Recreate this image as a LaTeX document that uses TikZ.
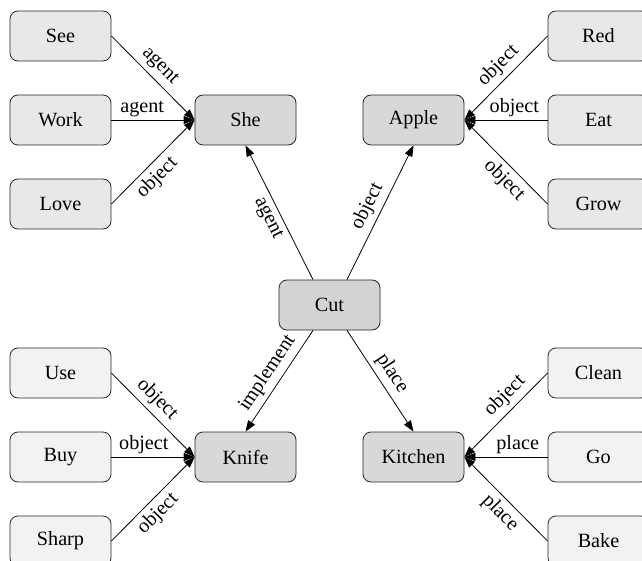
\documentclass[tikz,border=0pt]{standalone}
\usepackage{fontspec}
\setmainfont{Liberation Serif}
\usetikzlibrary{arrows.meta}
\definecolor{outerA}{HTML}{E8E8E8}
\definecolor{outerB}{HTML}{F2F2F2}
\definecolor{hubfill}{HTML}{D8D8D8}
\definecolor{cutfill}{HTML}{D3D3D3}
\begin{document}
\begin{tikzpicture}[
  x=1pt, y=1pt,
  box/.style={draw=black!85, line width=0.8pt, rounded corners=8pt,
    minimum width=101pt, minimum height=50pt, inner sep=0pt,
    font=\fontsize{20.2}{24}\selectfont},
  leafA/.style={box, fill=outerA},
  leafB/.style={box, fill=outerB},
  hub/.style={box, fill=hubfill},
  root/.style={box, fill=cutfill},
  rel/.style={draw=black, line width=0.8pt, -{Triangle[length=11pt,width=8pt]}},
  lbl/.style={font=\fontsize{20.2}{24}\selectfont, inner sep=2pt, outer sep=3pt, sloped}
]
\useasboundingbox (0,0) rectangle (642,-561);

% central concept
\node[root] (cut) at (329.5,-305) {Cut};

% second-level concepts
\node[hub] (she)     at (245.5,-120) {She};
\node[hub] (apple)   at (413.5,-120) {Apple};
\node[hub] (knife)   at (245.5,-457) {Knife};
\node[hub] (kitchen) at (413.5,-457) {Kitchen};

% leaves around She
\node[leafA] (see)  at (60.5,-36)  {See};
\node[leafA] (work) at (60.5,-120) {Work};
\node[leafA] (love) at (60.5,-204) {Love};

% leaves around Apple
\node[leafA] (red)  at (598.5,-36)  {Red};
\node[leafA] (eat)  at (598.5,-120) {Eat};
\node[leafA] (grow) at (598.5,-204) {Grow};

% leaves around Knife
\node[leafB] (use)   at (60.5,-373) {Use};
\node[leafB] (buy)   at (60.5,-457) {Buy};
\node[leafB] (sharp) at (60.5,-541) {Sharp};

% leaves around Kitchen
\node[leafB] (clean) at (598.5,-373) {Clean};
\node[leafB] (go)    at (598.5,-457) {Go};
\node[leafB] (bake)  at (598.5,-541) {Bake};

% relations from the central concept
\draw[rel] ([xshift=-16.5pt]cut.north) -- node[lbl, below, pos=0.5] {agent} (she.south);
\draw[rel] ([xshift=17.5pt]cut.north) -- node[lbl, above, pos=0.5] {object} (apple.south);
\draw[rel] ([xshift=-16.5pt]cut.south) -- node[lbl, above, pos=0.5] {implement} (knife.north);
\draw[rel] ([xshift=17.5pt]cut.south) -- node[lbl, above, pos=0.5] {place} (kitchen.north);

% She
\draw[rel] (see.east)  -- node[lbl, above, pos=0.47] {agent}  (she.west);
\draw[rel] (work.east) -- node[lbl, above, pos=0.37, outer sep=1pt] {agent}  (she.west);
\draw[rel] (love.east) -- node[lbl, below, pos=0.43] {object} (she.west);

% Apple
\draw[rel] (red.west)  -- node[lbl, above, pos=0.47] {object} (apple.east);
\draw[rel] (eat.west)  -- node[lbl, above, pos=0.40, outer sep=1pt] {object} (apple.east);
\draw[rel] (grow.west) -- node[lbl, below, pos=0.40] {object} (apple.east);

% Knife
\draw[rel] (use.east)   -- node[lbl, above, pos=0.43] {object} (knife.west);
\draw[rel] (buy.east)   -- node[lbl, above, pos=0.39, outer sep=1pt] {object} (knife.west);
\draw[rel] (sharp.east) -- node[lbl, below, pos=0.44] {object} (knife.west);

% Kitchen
\draw[rel] (clean.west) -- node[lbl, above, pos=0.39] {object} (kitchen.east);
\draw[rel] (go.west)    -- node[lbl, above, pos=0.36, outer sep=1pt] {place}  (kitchen.east);
\draw[rel] (bake.west)  -- node[lbl, below, pos=0.45] {place}  (kitchen.east);
\end{tikzpicture}
\end{document}
